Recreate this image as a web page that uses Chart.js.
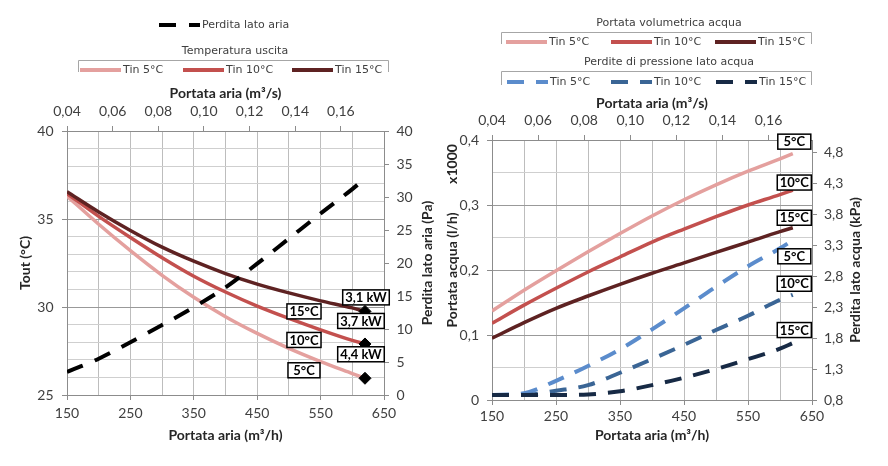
<!DOCTYPE html>
<html>
<head>
<meta charset="utf-8">
<script src="https://cdn.jsdelivr.net/npm/chart.js@4.4.0/dist/chart.umd.min.js"></script>
<style>
  body { margin: 0; background: #fff; }
  #wrap { position: relative; width: 888px; height: 466px; }
  canvas { position: absolute; top: 0; }
  #left { left: 0; }
  #right { left: 444px; }
</style>
</head>
<body>
<div id="wrap">
  <canvas id="left" width="444" height="466"></canvas>
  <canvas id="right" width="444" height="466"></canvas>
</div>
<script>
const FONT = 'Lato';
const LEG_FONT = '11px "DejaVu Sans"';

// portata aria (m3/h)
const airFlow = [150, 200, 250, 300, 350, 400, 450, 500, 550, 600, 620];

// temperatura uscita (°C)
const tout5  = [36.3, 34.7, 33.2, 31.8, 30.55, 29.45, 28.5, 27.65, 26.9, 26.22, 25.95];
const tout10 = [36.45, 35.15, 33.95, 32.8, 31.75, 30.85, 30.05, 29.35, 28.7, 28.1, 27.9];
const tout15 = [36.55, 35.4, 34.35, 33.4, 32.6, 31.9, 31.3, 30.8, 30.35, 29.95, 29.75];
// perdita lato aria (Pa)
const airLoss = [3.5, 5.5, 8.0, 10.6, 13.3, 16.3, 19.9, 23.7, 27.5, 31.2, 32.8];
// potenza alla portata massima
const powerLabels = ['4,4 kW', '3,7 kW', '3,1 kW'];

// portata acqua (l/h x1000)
const water5  = [0.137, 0.169, 0.199, 0.228, 0.256, 0.283, 0.308, 0.331, 0.352, 0.371, 0.379];
const water10 = [0.118, 0.146, 0.172, 0.197, 0.220, 0.243, 0.263, 0.282, 0.300, 0.316, 0.323];
const water15 = [0.095, 0.119, 0.141, 0.160, 0.178, 0.195, 0.211, 0.227, 0.243, 0.259, 0.265];
// perdite lato acqua (kPa)
const waterLoss5  = [0.88, 0.91, 1.11, 1.35, 1.62, 1.94, 2.28, 2.63, 2.96, 3.25, 3.38];
const waterLoss10 = [0.88, 0.88, 0.95, 1.04, 1.24, 1.46, 1.69, 1.93, 2.16, 2.42, 2.50];
const waterLoss15 = [0.88, 0.88, 0.88, 0.89, 0.94, 1.04, 1.16, 1.30, 1.46, 1.63, 1.72];

// ticks
const flowTicks = [150, 200, 250, 300, 350, 400, 450, 500, 550, 600, 650];
const flowSecTicks = [0.04, 0.06, 0.08, 0.10, 0.12, 0.14, 0.16];
const toutTicks = [25, 26, 27, 28, 29, 30, 31, 32, 33, 34, 35, 36, 37, 38, 39, 40];
const airLossTicks = [0, 5, 10, 15, 20, 25, 30, 35, 40];
const waterTicks = [0, 0.05, 0.1, 0.15, 0.2, 0.25, 0.3, 0.35, 0.4];
const waterLossTicks = [0.8, 1.3, 1.8, 2.3, 2.8, 3.3, 3.8, 4.3, 4.8];

const C5 = '#e4a09e', C10 = '#c3504e', C15 = '#5e2222';
const B5 = '#5b8ccc', B10 = '#3a6595', B15 = '#172a45';

const fmt = (v, d) => Math.abs(v) < 1e-9 ? '0' : v.toFixed(d).replace('.', ',');
const pts = ys => airFlow.map((x, i) => ({x: x, y: ys[i]}));
const near = (a, b) => Math.abs(a - b) < 1e-6;
const last = a => a[a.length - 1];

const tickFont = {family: FONT, size: 14};
const titleFont = {family: FONT, size: 14, weight: 'bold'};

function setTicks(list) {
  return axis => { axis.ticks = list.map(v => ({value: v})); };
}

function line(label, ys, color, axis, dash) {
  return {
    label: label, data: pts(ys), yAxisID: axis,
    borderColor: color, backgroundColor: color,
    borderWidth: dash ? 4 : 3.5, borderDash: dash || [],
    pointRadius: 0, cubicInterpolationMode: 'monotone', fill: false
  };
}

// plugin: legende a parentesi, titoli assi destri, etichette
const extras = {
  id: 'extras',
  afterDraw(chart, args, o) {
    const ctx = chart.ctx;
    const ds = chart.data.datasets;
    ctx.save();
    ctx.textBaseline = 'middle';

    // legende
    (o.groups || []).forEach(g => {
      if (g.title) {
        ctx.font = LEG_FONT;
        ctx.fillStyle = '#404040';
        ctx.textAlign = 'center';
        ctx.fillText(g.title, g.tx, g.ty);
      }
      if (g.box) {
        const [x1, y1, x2, y2] = g.box;
        ctx.strokeStyle = '#a6a6a6';
        ctx.lineWidth = 1;
        ctx.setLineDash([]);
        ctx.beginPath();
        ctx.moveTo(x1 + 0.5, y2); ctx.lineTo(x1 + 0.5, y1 + 0.5);
        ctx.lineTo(x2 + 0.5, y1 + 0.5); ctx.lineTo(x2 + 0.5, y2);
        ctx.stroke();
      }
      g.items.forEach(it => {
        const d = ds[it.ds];
        ctx.strokeStyle = d.borderColor;
        ctx.lineWidth = 4;
        ctx.setLineDash(d.borderDash && d.borderDash.length ? d.borderDash : []);
        ctx.beginPath();
        ctx.moveTo(it.x, it.y); ctx.lineTo(it.x + 41, it.y);
        ctx.stroke();
        ctx.setLineDash([]);
        ctx.font = LEG_FONT;
        ctx.fillStyle = '#404040';
        ctx.textAlign = 'left';
        ctx.fillText(d.label, it.x + 43, it.y);
      });
    });

    // titoli ruotati
    const area = chart.chartArea;
    (o.vtitles || []).forEach(t => {
      ctx.save();
      ctx.translate(t.x, t.y != null ? t.y : (area.top + area.bottom) / 2);
      ctx.rotate(-Math.PI / 2);
      ctx.font = 'bold 14px ' + FONT;
      ctx.fillStyle = '#262626';
      ctx.textAlign = 'center';
      ctx.fillText(t.text, 0, 0);
      ctx.restore();
    });

    // etichette
    (o.boxes || []).forEach(b => {
      const meta = chart.getDatasetMeta(b.ds);
      const p = meta.data[meta.data.length - 1];
      const cx = p.x + b.dx, cy = p.y + b.dy;
      ctx.font = 'bold 13px ' + FONT;
      const w = Math.max(ctx.measureText(b.text).width + 5, b.minW || 0);
      const h = 15;
      ctx.fillStyle = '#fff';
      ctx.fillRect(cx - w / 2, cy - h / 2, w, h);
      ctx.strokeStyle = '#000';
      ctx.lineWidth = 1.5;
      ctx.strokeRect(cx - w / 2, cy - h / 2, w, h);
      ctx.fillStyle = '#000';
      ctx.textAlign = 'center';
      ctx.fillText(b.text, cx, cy + 0.5);
    });
    ctx.restore();
  }
};

function flowAxes(bottomH, topH, labelPadBottom, labelPadTop) {
  return {
    x: {
      type: 'linear', position: 'bottom', min: 150, max: 650,
      afterBuildTicks: setTicks(flowTicks),
      afterFit: s => { s.height = bottomH; },
      ticks: {autoSkip: false, maxRotation: 0, padding: labelPadBottom, font: tickFont, color: '#404040',
        callback: v => (v - 150) % 100 === 0 ? String(v) : ''},
      grid: {color: '#bdbdbd', tickLength: 5,
        tickColor: c => (c.tick && (c.tick.value - 150) % 100 === 0) ? '#8c8c8c' : 'rgba(0,0,0,0)'},
      border: {color: '#8c8c8c'},
      title: {display: true, text: 'Portata aria (m³/h)', font: titleFont, color: '#262626', padding: {top: 0, bottom: 22}}
    },
    x2: {
      type: 'linear', position: 'top', min: 0.04, max: 0.04 + 500 / 3600,
      afterBuildTicks: setTicks(flowSecTicks),
      afterFit: s => { s.height = topH; },
      ticks: {autoSkip: false, maxRotation: 0, padding: labelPadTop, font: tickFont, color: '#404040',
        callback: v => fmt(v, 2)},
      grid: {drawOnChartArea: false, tickLength: 5, color: '#8c8c8c'},
      border: {color: '#8c8c8c'},
      title: {display: true, text: 'Portata aria (m³/s)', font: titleFont, color: '#262626', padding: {top: 7, bottom: 0}}
    }
  };
}

// ---- grafico sinistro
const leftScales = flowAxes(71, 53, 5, 6);
leftScales.y = {
  position: 'left', min: 25, max: 40,
  afterBuildTicks: setTicks(toutTicks),
  afterFit: s => { s.width = 67; },
  ticks: {autoSkip: false, padding: 8.5, font: tickFont, color: '#404040',
    callback: v => v % 5 === 0 ? String(v) : ''},
  grid: {tickLength: 5,
    color: c => (c.tick && c.tick.value % 5 === 0) ? '#999999' : '#cfcfcf',
    tickColor: c => (c.tick && c.tick.value % 5 === 0) ? '#8c8c8c' : 'rgba(0,0,0,0)'},
  border: {color: '#8c8c8c'},
  title: {display: true, text: 'Tout (°C)', font: titleFont, color: '#262626', padding: {top: 17.5, bottom: 0}}
};
leftScales.y2 = {
  position: 'right', min: 0, max: 40,
  afterBuildTicks: setTicks(airLossTicks),
  afterFit: s => { s.width = 60; },
  ticks: {autoSkip: false, padding: 7.5, font: tickFont, color: '#404040', callback: v => String(v)},
  grid: {drawOnChartArea: false, tickLength: 5, color: '#8c8c8c'},
  border: {color: '#8c8c8c'}
};

new Chart(document.getElementById('left'), {
  type: 'line',
  data: {
    datasets: [
      {label: 'Potenza', data: [{x: last(airFlow), y: last(tout5)}, {x: last(airFlow), y: last(tout10)}, {x: last(airFlow), y: last(tout15)}],
        yAxisID: 'y', showLine: false, pointStyle: 'rectRot', pointRadius: 6,
        pointBackgroundColor: '#000', pointBorderColor: '#000', borderColor: '#000'},
      line('Perdita lato aria', airLoss, '#000', 'y2', [17, 13]),
      line('Tin 15°C', tout15, C15, 'y'),
      line('Tin 10°C', tout10, C10, 'y'),
      line('Tin 5°C', tout5, C5, 'y')
    ]
  },
  options: {
    responsive: false, animation: false, devicePixelRatio: 1,
    layout: {padding: {top: 78, left: 0, right: 0, bottom: 0}},
    scales: leftScales,
    plugins: {
      legend: {display: false}, tooltip: {enabled: false},
      extras: {
        groups: [
          {items: [{ds: 1, x: 159, y: 25}]},
          {title: 'Temperatura uscita', tx: 235, ty: 51, box: [78, 60, 388, 72],
            items: [{ds: 4, x: 80, y: 70}, {ds: 3, x: 183, y: 70}, {ds: 2, x: 292, y: 70}]}
        ],
        vtitles: [{text: 'Perdita lato aria (Pa)', x: 427}],
        boxes: [
          {text: powerLabels[2], ds: 2, dx: 1, dy: -14},
          {text: powerLabels[1], ds: 3, dx: -4, dy: -23},
          {text: powerLabels[0], ds: 4, dx: -4, dy: -24},
          {text: '15°C', ds: 2, dx: -61, dy: 0, minW: 32},
          {text: '10°C', ds: 3, dx: -61, dy: -4, minW: 32},
          {text: '5°C', ds: 4, dx: -61, dy: -8, minW: 32}
        ]
      }
    }
  },
  plugins: [extras]
});

// ---- grafico destro
const rightScales = flowAxes(66, 52, 3, 6);
rightScales.y = {
  position: 'left', min: 0, max: 0.4,
  afterBuildTicks: setTicks(waterTicks),
  afterFit: s => { s.width = 48; },
  ticks: {autoSkip: false, padding: 8, font: tickFont, color: '#404040',
    callback: v => near(Math.round(v * 10) / 10, v) ? fmt(v, 1) : ''},
  grid: {tickLength: 5,
    color: c => (c.tick && near(Math.round(c.tick.value * 10) / 10, c.tick.value)) ? '#999999' : '#cfcfcf',
    tickColor: c => (c.tick && near(Math.round(c.tick.value * 10) / 10, c.tick.value)) ? '#8c8c8c' : 'rgba(0,0,0,0)'},
  border: {color: '#8c8c8c'},
  title: {display: true, text: 'Portata acqua (l/h)', font: titleFont, color: '#262626', padding: {top: 0, bottom: 0}}
};
rightScales.y2 = {
  position: 'right', min: 0.8, max: 5.0,
  afterBuildTicks: setTicks(waterLossTicks),
  afterFit: s => { s.width = 76; },
  ticks: {autoSkip: false, padding: 7, font: tickFont, color: '#404040', callback: v => fmt(v, 1)},
  grid: {drawOnChartArea: false, tickLength: 5, color: '#8c8c8c'},
  border: {color: '#8c8c8c'}
};

new Chart(document.getElementById('right'), {
  type: 'line',
  data: {
    datasets: [
      line('Tin 15°C', waterLoss15, B15, 'y2', [17, 12]),
      line('Tin 10°C', waterLoss10, B10, 'y2', [17, 12]),
      line('Tin 5°C', waterLoss5, B5, 'y2', [17, 12]),
      line('Tin 15°C', water15, C15, 'y'),
      line('Tin 10°C', water10, C10, 'y'),
      line('Tin 5°C', water5, C5, 'y')
    ]
  },
  options: {
    responsive: false, animation: false, devicePixelRatio: 1,
    layout: {padding: {top: 88, left: 0, right: 0, bottom: 0}},
    scales: rightScales,
    plugins: {
      legend: {display: false}, tooltip: {enabled: false},
      extras: {
        groups: [
          {title: 'Portata volumetrica acqua', tx: 225, ty: 23, box: [57, 32, 367, 44],
            items: [{ds: 5, x: 62, y: 42}, {ds: 4, x: 167, y: 42}, {ds: 3, x: 271, y: 42}]},
          {title: 'Perdite di pressione lato acqua', tx: 225, ty: 62, box: [57, 71, 367, 85],
            items: [{ds: 2, x: 63, y: 82}, {ds: 1, x: 167, y: 82}, {ds: 0, x: 272, y: 82}]}
        ],
        vtitles: [
          {text: 'Perdita lato acqua (kPa)', x: 411},
          {text: 'x1000', x: 8.5, y: 164}
        ],
        boxes: [
          {text: '5°C', ds: 5, dx: 1.5, dy: -12, minW: 33},
          {text: '10°C', ds: 4, dx: 1.5, dy: -7.5, minW: 33},
          {text: '15°C', ds: 3, dx: 1.5, dy: -10, minW: 33},
          {text: '5°C', ds: 2, dx: 1.5, dy: 16, minW: 33},
          {text: '10°C', ds: 1, dx: 1.5, dy: -11, minW: 33},
          {text: '15°C', ds: 0, dx: 1.5, dy: -13, minW: 33}
        ]
      }
    }
  },
  plugins: [extras]
});
</script>
</body>
</html>
